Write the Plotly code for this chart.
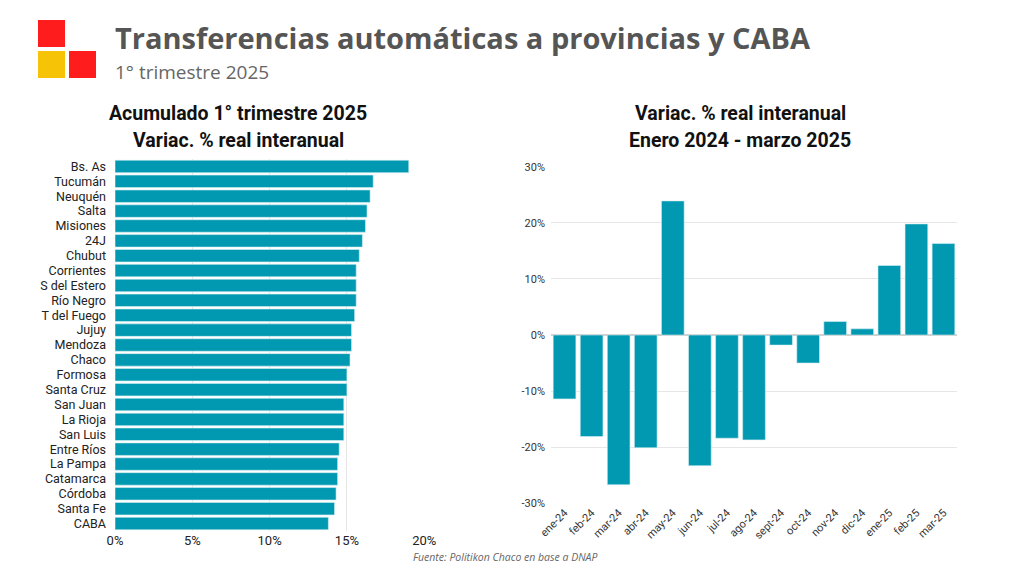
import plotly.graph_objects as go

provincias = ["Bs. As", "Tucumán", "Neuquén", "Salta", "Misiones", "24J", "Chubut",
              "Corrientes", "S del Estero", "Río Negro", "T del Fuego", "Jujuy", "Mendoza",
              "Chaco", "Formosa", "Santa Cruz", "San Juan", "La Rioja", "San Luis",
              "Entre Ríos", "La Pampa", "Catamarca", "Córdoba", "Santa Fe", "CABA"]
var_acumulada = [19.0, 16.7, 16.5, 16.3, 16.2, 16.0, 15.8, 15.6, 15.6, 15.6, 15.5, 15.3,
                 15.3, 15.2, 15.0, 15.0, 14.8, 14.8, 14.8, 14.5, 14.4, 14.4, 14.3, 14.2, 13.8]

meses = ["ene-24", "feb-24", "mar-24", "abr-24", "may-24", "jun-24", "jul-24", "ago-24",
         "sept-24", "oct-24", "nov-24", "dic-24", "ene-25", "feb-25", "mar-25"]
var_mensual = [-11.4, -18.1, -26.7, -20.1, 23.9, -23.3, -18.4, -18.7, -1.8, -5.0,
               2.4, 1.1, 12.4, 19.8, 16.3]

left_ticks = [0, 5, 10, 15, 20]
right_ticks = [-30, -20, -10, 0, 10, 20, 30]

BAR = "#0099B1"
EDGE = "#d9f0f4"
GRID = "#e6e6e6"

fig = go.Figure()
fig.add_trace(go.Bar(
    x=var_acumulada, y=provincias, orientation="h",
    marker=dict(color=BAR, line=dict(color=EDGE, width=0.6)),
    xaxis="x", yaxis="y", showlegend=False,
))
fig.add_trace(go.Bar(
    x=meses, y=var_mensual,
    marker=dict(color=BAR, line=dict(color=EDGE, width=0.6)),
    xaxis="x2", yaxis="y2", showlegend=False,
))

W, H = 1024, 576
def px(x): return x / W
def py(y): return 1 - y / H

fig.update_layout(
    width=W, height=H, autosize=False,
    margin=dict(l=0, r=0, t=0, b=0, pad=0, autoexpand=False),
    paper_bgcolor="white", plot_bgcolor="white",
    font=dict(family="Roboto", color="#222"),
    bargap=0.16,
    xaxis=dict(domain=[px(115), px(425)], range=[0, 20.05], tickvals=left_ticks,
               ticktext=[f"{v}%" for v in left_ticks], showgrid=True, gridcolor=GRID,
               gridwidth=1, zeroline=False, showline=False, ticks="", automargin=False,
               tickfont=dict(size=13, color="#222", family="Roboto"), anchor="y"),
    yaxis=dict(domain=[py(531), py(159)], autorange="reversed", showgrid=False,
               ticks="", dtick=1, automargin=False, ticklabelstandoff=8,
               tickfont=dict(size=12.5, color="#222", family="Roboto"),
               anchor="x", showline=False, zeroline=False),
    xaxis2=dict(domain=[px(551), px(957)], range=[-0.5, 14.5], tickangle=-45, ticks="",
                showgrid=False, zeroline=False, showline=False, dtick=1, automargin=False,
                tickfont=dict(size=11, color="#333", family="Roboto"), anchor="y2"),
    yaxis2=dict(domain=[py(503.3), py(166.7)], range=[-30, 30], tickvals=right_ticks,
                ticktext=[f"{v}%" for v in right_ticks], showgrid=True, gridcolor=GRID,
                zeroline=True, zerolinecolor="#d0d0d0", zerolinewidth=1.5, automargin=False,
                ticks="", ticklabelstandoff=5,
                tickfont=dict(size=11, color="#333", family="Roboto"),
                anchor="x2"),
)

# Logo squares
for (x0, y0, col) in [(38, 20, "#FF1C1C"), (38, 51, "#F7C306"), (69, 51, "#FF1C1C")]:
    fig.add_shape(type="rect", xref="paper", yref="paper",
                  x0=px(x0), x1=px(x0 + 27), y0=py(y0 + 27), y1=py(y0),
                  fillcolor=col, line=dict(width=0), layer="above")

ann = [
    dict(text="<b>Transferencias automáticas a provincias y CABA</b>", x=px(113), y=py(38),
         xanchor="left", yanchor="middle", font=dict(family="Open Sans", size=29, color="#555555")),
    dict(text="1° trimestre 2025", x=px(113), y=py(72), xanchor="left", yanchor="middle",
         font=dict(family="Open Sans", size=19, color="#666666")),
    dict(text="<b>Acumulado 1° trimestre 2025</b>", x=px(238), y=py(113), xanchor="center",
         yanchor="middle", font=dict(family="Roboto", size=19.5, color="#111")),
    dict(text="<b>Variac. % real interanual</b>", x=px(238), y=py(140), xanchor="center",
         yanchor="middle", font=dict(family="Roboto", size=19.5, color="#111")),
    dict(text="<b>Variac. % real interanual</b>", x=px(740), y=py(113), xanchor="center",
         yanchor="middle", font=dict(family="Roboto", size=19.5, color="#111")),
    dict(text="<b>Enero 2024 - marzo 2025</b>", x=px(740), y=py(140), xanchor="center",
         yanchor="middle", font=dict(family="Roboto", size=19.5, color="#111")),
    dict(text="<i>Fuente: Politikon Chaco en base a DNAP</i>", x=px(411), y=py(557),
         xanchor="left", yanchor="middle", font=dict(family="Open Sans", size=10.5, color="#666")),
]
for a in ann:
    fig.add_annotation(xref="paper", yref="paper", showarrow=False, **a)

fig.write_html("out.html", config={"displayModeBar": False},
               post_script="document.body.style.margin='0px';")
